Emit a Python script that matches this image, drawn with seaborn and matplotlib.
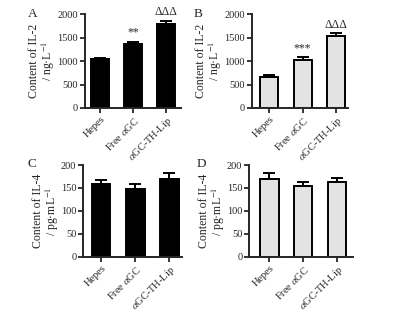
import matplotlib
matplotlib.use("Agg")
import matplotlib.pyplot as plt
import seaborn as sns
import pandas as pd

groups = ["Hepes", "Free $\\alpha$GC", "$\\alpha$GC-TH-Lip"]

il2_a_mean = [1043, 1369, 1787]
il2_a_err = [35, 50, 78]
il2_a_marks = ["", "**", "ΔΔΔ"]

il2_b_mean = [664, 1014, 1536]
il2_b_err = [35, 79, 57]
il2_b_marks = ["", "***", "ΔΔΔ"]

il4_c_mean = [158, 148, 170]
il4_c_err = [9, 10, 12]

il4_d_mean = [169, 154, 163]
il4_d_err = [13, 9, 8]

panel_letters = ["A", "B", "C", "D"]
ylabel_il2 = "Content of IL-2\n/ ng·L$^{-1}$"
ylabel_il4 = "Content of IL-4\n/ pg·mL$^{-1}$"
il2_ticks = [0, 500, 1000, 1500, 2000]
il4_ticks = [0, 50, 100, 150, 200]

sns.set_style("ticks")
plt.rcParams["font.family"] = ["Liberation Serif", "DejaVu Serif"]
plt.rcParams["mathtext.fontset"] = "stix"
plt.rcParams["axes.linewidth"] = 1.4

fig = plt.figure(figsize=(3.95, 3.12), dpi=100)

panels = [
    dict(rect=[0.214, 0.654, 0.243, 0.300], mean=il2_a_mean, err=il2_a_err, marks=il2_a_marks,
         color="black", ylim=(0, 2000), ticks=il2_ticks, ylabel=ylabel_il2, xlim=(-0.48, 2.45),
         letter_xy=(0.070, 0.955)),
    dict(rect=[0.637, 0.654, 0.244, 0.300], mean=il2_b_mean, err=il2_b_err, marks=il2_b_marks,
         color="#e3e3e3", ylim=(0, 2000), ticks=il2_ticks, ylabel=ylabel_il2, xlim=(-0.53, 2.36),
         letter_xy=(0.490, 0.955)),
    dict(rect=[0.211, 0.177, 0.250, 0.294], mean=il4_c_mean, err=il4_c_err, marks=None,
         color="black", ylim=(0, 200), ticks=il4_ticks, ylabel=ylabel_il4, xlim=(-0.52, 2.37),
         letter_xy=(0.070, 0.475)),
    dict(rect=[0.631, 0.177, 0.262, 0.294], mean=il4_d_mean, err=il4_d_err, marks=None,
         color="#e3e3e3", ylim=(0, 200), ticks=il4_ticks, ylabel=ylabel_il4, xlim=(-0.6, 2.47),
         letter_xy=(0.498, 0.475)),
]

for letter, p in zip(panel_letters, panels):
    ax = fig.add_axes(p["rect"])
    df = pd.DataFrame({"group": groups, "value": p["mean"]})
    sns.barplot(data=df, x="group", y="value", color=p["color"], edgecolor="black",
                linewidth=1.4, width=0.54, errorbar=None, ax=ax, saturation=1)
    xs = list(range(len(groups)))
    ax.errorbar(xs, p["mean"], yerr=[[0] * len(xs), p["err"]], fmt="none",
                ecolor="black", elinewidth=1.4, capsize=4, capthick=1.4, zorder=1)
    if p["marks"]:
        for x, m, e, s in zip(xs, p["mean"], p["err"], p["marks"]):
            if s:
                ax.annotate(s, (x, m + e), xytext=(0, 2), textcoords="offset points",
                            ha="center", va="bottom", fontsize=8.5)
    ax.set_ylim(*p["ylim"])
    ax.set_xlim(*p["xlim"])
    ax.set_yticks(p["ticks"])
    ax.set_xlabel("")
    ax.set_ylabel(p["ylabel"], fontsize=8.5, linespacing=1.0, labelpad=0)
    ax.tick_params(axis="both", direction="out", length=3.5, width=1.3, labelsize=7.5, pad=1.5)
    ax.set_xticks(xs)
    ax.set_xticklabels(groups, rotation=45, ha="right", rotation_mode="anchor", fontsize=7.5)
    sns.despine(ax=ax)
    fig.text(p["letter_xy"][0], p["letter_xy"][1], letter, fontsize=9.5, ha="left", va="center")

fig.savefig("out.png", dpi=100)
